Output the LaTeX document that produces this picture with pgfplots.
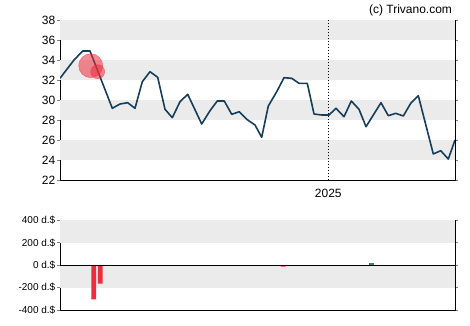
\documentclass[border=0pt]{standalone}
\usepackage{pgfplots}
\pgfplotsset{compat=1.18}
\usepackage{fontspec}
\setmainfont{Liberation Sans}
\definecolor{stripe}{HTML}{EBEBEB}
\definecolor{linec}{HTML}{163D5C}
\definecolor{redc}{HTML}{EE2C3C}
\definecolor{greenc}{HTML}{2E8B57}
\begin{document}
\begin{tikzpicture}[x=1pt,y=1pt]
\path[use as bounding box] (0,0) rectangle (470,325);
\node[anchor=base east,font=\fontsize{12}{14}\selectfont] at (455.5,311.7) {(c) Trivano.com};
\begin{axis}[
  name=top, scale only axis, width=395pt, height=160pt,
  at={(60pt,145pt)}, anchor=south west,
  xmin=0, xmax=395, ymin=22, ymax=38,
  axis line style={line width=0.9pt},
  ytick={22,24,...,38},
  xtick={268.3}, xticklabels={2025},
  xtick style={draw=none},
  tick align=outside, major tick length=3pt,
  ytick style={line width=0.8pt},
  /pgf/number format/assume math mode=true,
  tick label style={font=\fontsize{12}{14}\selectfont},
  yticklabel style={inner sep=1.5pt},
  xticklabel style={yshift=-2.5pt},
  clip=true,
]
\fill[stripe] (axis cs:0,36) rectangle (axis cs:395,38);
\fill[stripe] (axis cs:0,32) rectangle (axis cs:395,34);
\fill[stripe] (axis cs:0,28) rectangle (axis cs:395,30);
\fill[stripe] (axis cs:0,24) rectangle (axis cs:395,26);
\draw[black, line width=0.8pt, dash pattern=on 1pt off 2pt] (axis cs:268.3,22) -- (axis cs:268.3,38);
\addplot[linec, line width=1.6pt, line join=round, mark=none] coordinates {
(0,32.17) (14,34.0) (22.7,34.9) (30,34.9) (52.3,29.17) (60,29.6) (67.7,29.73)
(75,29.17) (82.3,31.83) (90,32.83) (97.7,32.27) (105,29.07) (112.3,28.23)
(120,29.83) (127.7,30.57) (141.7,27.6) (150,28.93) (157.3,29.9) (164.3,29.9)
(171.7,28.57) (179.3,28.83) (186.7,28.07) (195,27.5) (201.7,26.27) (208.3,29.4)
(216.7,30.83) (224,32.23) (231.7,32.17) (239,31.67) (247.3,31.67) (254,28.6)
(261.7,28.5) (269,28.5) (276,29.17) (284,28.33) (291.3,29.9) (299,29.07)
(306,27.33) (313.3,28.5) (321,29.73) (328.3,28.43) (335.7,28.67) (343.3,28.4)
(350.7,29.67) (358.3,30.43) (373.3,24.6) (380.7,24.93) (388.3,24.1) (395,26.0)
};
\addplot[only marks, mark=*, mark size=12pt, mark options={fill=redc, fill opacity=0.55, draw=redc, draw opacity=0.6}] coordinates {(30.7,33.43)};
\addplot[only marks, mark=*, mark size=7pt, mark options={fill=redc, fill opacity=0.55, draw=redc, draw opacity=0.6}] coordinates {(37.7,32.83)};
\end{axis}
\begin{axis}[
  name=bot, scale only axis, width=395pt, height=89.7pt,
  at={(60pt,15pt)}, anchor=south west,
  xmin=0, xmax=395, ymin=-400, ymax=400,
  axis line style={line width=0.9pt},
  xtick=\empty,
  ytick={-400,-200,0,200,400},
  yticklabels={-400 d.\$,-200 d.\$,0 d.\$,200 d.\$,400 d.\$},
  tick align=outside, major tick length=3pt,
  ytick style={line width=0.8pt},
  tick label style={font=\fontsize{10}{12}\selectfont},
  yticklabel style={inner sep=1.5pt},
]
\fill[stripe] (axis cs:0,200) rectangle (axis cs:395,400);
\fill[stripe] (axis cs:0,-200) rectangle (axis cs:395,0);
\addplot[ybar, bar width=4.7pt, fill=redc, draw=none] coordinates {(33.7,-306) (40.3,-164) (223.3,-14)};
\addplot[ybar, bar width=4.7pt, fill=greenc, draw=none] coordinates {(311.3,22)};
\draw[black, line width=0.9pt] (axis cs:0,0) -- (axis cs:395,0);
\end{axis}
\end{tikzpicture}
\end{document}
